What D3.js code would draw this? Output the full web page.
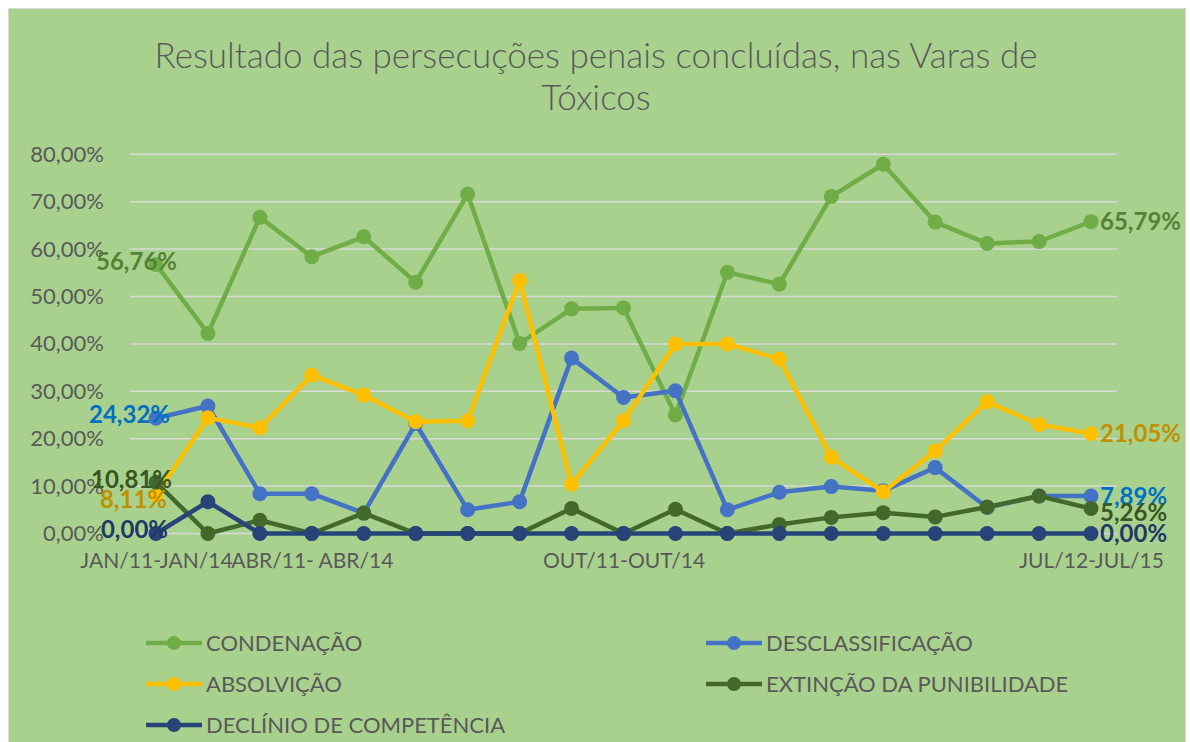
<!DOCTYPE html>
<html>
<head>
<meta charset="utf-8">
<script src="https://cdn.jsdelivr.net/npm/d3@7/dist/d3.min.js"></script>
<style>
  body { margin: 0; background: #fff; }
  svg { display: block; font-family: Lato, "Open Sans", sans-serif; }
</style>
</head>
<body>
<div id="chart"></div>
<script>
// chart values (percent)
const labels = ["JAN/11-JAN/14", "", "", "ABR/11- ABR/14", "", "", "", "", "", "OUT/11-OUT/14",
                "", "", "", "", "", "", "", "", "JUL/12-JUL/15"];
const condenacao = [56.76, 42.2, 66.7, 58.4, 62.6, 53.0, 71.6, 40.1, 47.4, 47.6, 25.0, 55.1, 52.6, 71.1, 77.9, 65.7, 61.2, 61.6, 65.79];
const desclassificacao = [24.32, 26.9, 8.4, 8.4, 4.3, 23.2, 5.0, 6.7, 37.0, 28.7, 30.1, 5.0, 8.7, 9.9, 9.0, 13.9, 5.5, 7.89, 7.89];
const absolvicao = [8.11, 24.4, 22.3, 33.4, 29.2, 23.6, 23.8, 53.4, 10.4, 23.8, 40.0, 40.0, 36.8, 16.1, 8.8, 17.4, 27.8, 23.0, 21.05];
const extincao = [10.81, 0, 2.8, 0, 4.3, 0, 0, 0, 5.3, 0, 5.1, 0, 1.9, 3.4, 4.4, 3.5, 5.6, 7.9, 5.26];
const declinio = [0, 6.7, 0, 0, 0, 0, 0, 0, 0, 0, 0, 0, 0, 0, 0, 0, 0, 0, 0];
const yTicks = [0, 10, 20, 30, 40, 50, 60, 70, 80];

const series = [
    { name: "CONDENAÇÃO", values: condenacao, color: "#70AD47", labelColor: "#548235" },
    { name: "DESCLASSIFICAÇÃO", values: desclassificacao, color: "#4472C4", labelColor: "#0070C0" },
    { name: "ABSOLVIÇÃO", values: absolvicao, color: "#FFC000", labelColor: "#BF9000" },
    { name: "EXTINÇÃO DA PUNIBILIDADE", values: extincao, color: "#43682B", labelColor: "#375623" },
    { name: "DECLÍNIO DE COMPETÊNCIA", values: declinio, color: "#264478", labelColor: "#203864" }
];

const width = 1190, height = 742;
const textColor = "#595959";

const svg = d3.select("#chart").append("svg")
    .attr("width", width)
    .attr("height", height);

// chart area background
svg.append("rect")
    .attr("x", 8.5).attr("y", 8.5)
    .attr("width", 1177).attr("height", 760)
    .attr("fill", "#A9D18E")
    .attr("stroke", "#D9D9D9")
    .attr("stroke-width", 1);

// title
const title = svg.append("text")
    .attr("text-anchor", "middle")
    .attr("fill", textColor)
    .style("font-weight", "300")
    .style("font-size", "35px");
title.append("tspan").attr("x", 596).attr("y", 68).text("Resultado das persecuções penais concluídas, nas Varas de");
title.append("tspan").attr("x", 596).attr("y", 110).text("Tóxicos");

const x = d3.scalePoint()
    .domain(d3.range(labels.length))
    .range([130, 1117])
    .padding(0.5);

const y = d3.scaleLinear()
    .domain([0, 80])
    .range([533.5, 154.3]);

const locale = d3.formatLocale({ decimal: ",", thousands: ".", grouping: [3], currency: ["R$", ""] });
const pct = v => locale.format(".2f")(v) + "%";

// gridlines
svg.append("g")
    .selectAll("line")
    .data(yTicks)
    .enter().append("line")
    .attr("x1", 130).attr("x2", 1117)
    .attr("y1", d => y(d)).attr("y2", d => y(d))
    .attr("stroke", "#D9D9D9")
    .attr("stroke-width", 1.5);

// y axis labels
const yAxis = svg.append("g")
    .attr("transform", "translate(130,0)")
    .call(d3.axisLeft(y).tickValues(yTicks).tickFormat(pct).tickSize(0).tickPadding(26));
yAxis.select(".domain").remove();
yAxis.selectAll("text")
    .attr("fill", textColor)
    .style("font-family", "Lato, sans-serif")
    .style("font-size", "22px");

// x axis labels
const xAxis = svg.append("g")
    .attr("transform", "translate(0," + y(0) + ")")
    .call(d3.axisBottom(x).tickFormat(i => labels[i]).tickSize(0).tickPadding(20));
xAxis.select(".domain").remove();
xAxis.selectAll("text")
    .attr("fill", textColor)
    .style("font-family", "Lato, sans-serif")
    .style("font-size", "21px");

const line = d3.line()
    .x((d, i) => x(i))
    .y(d => y(d));

series.forEach(function (s) {
    const g = svg.append("g");
    g.append("path")
        .datum(s.values)
        .attr("d", line)
        .attr("fill", "none")
        .attr("stroke", s.color)
        .attr("stroke-width", 4.5)
        .attr("stroke-linejoin", "round");
    g.selectAll("circle")
        .data(s.values)
        .enter().append("circle")
        .attr("cx", (d, i) => x(i))
        .attr("cy", d => y(d))
        .attr("r", 7.5)
        .attr("fill", s.color);
});

// data labels, first and last points
const firstDx = [21, 14, 11, 16, 12];
const firstDy = [-3, -4, 5, -3, -4];
const lastDy = [0, 0, 0, 4, 0];
series.forEach(function (s, k) {
    const n = s.values.length;
    svg.append("text")
        .attr("x", x(0) + firstDx[k])
        .attr("y", y(s.values[0]) + firstDy[k])
        .attr("dy", "0.35em")
        .attr("text-anchor", "end")
        .attr("fill", s.labelColor)
        .style("font-weight", "bold")
        .style("font-size", "24px")
        .text(pct(s.values[0]));
    svg.append("text")
        .attr("x", x(n - 1) + 9)
        .attr("y", y(s.values[n - 1]) + lastDy[k])
        .attr("dy", "0.35em")
        .attr("text-anchor", "start")
        .attr("fill", s.labelColor)
        .style("font-weight", "bold")
        .style("font-size", "24px")
        .text(pct(s.values[n - 1]));
});

// legend
const legendPos = [[146, 643], [706, 643], [146, 684], [706, 684], [146, 725]];
const legend = svg.append("g")
    .selectAll("g")
    .data(series)
    .enter().append("g")
    .attr("transform", (d, i) => "translate(" + legendPos[i][0] + "," + legendPos[i][1] + ")");
legend.append("line")
    .attr("x1", 0).attr("x2", 56)
    .attr("stroke", d => d.color)
    .attr("stroke-width", 4.5);
legend.append("circle")
    .attr("cx", 28).attr("r", 7)
    .attr("fill", d => d.color);
legend.append("text")
    .attr("x", 60)
    .attr("dy", "0.35em")
    .attr("fill", textColor)
    .style("font-size", "22px")
    .text(d => d.name);
</script>
</body>
</html>
